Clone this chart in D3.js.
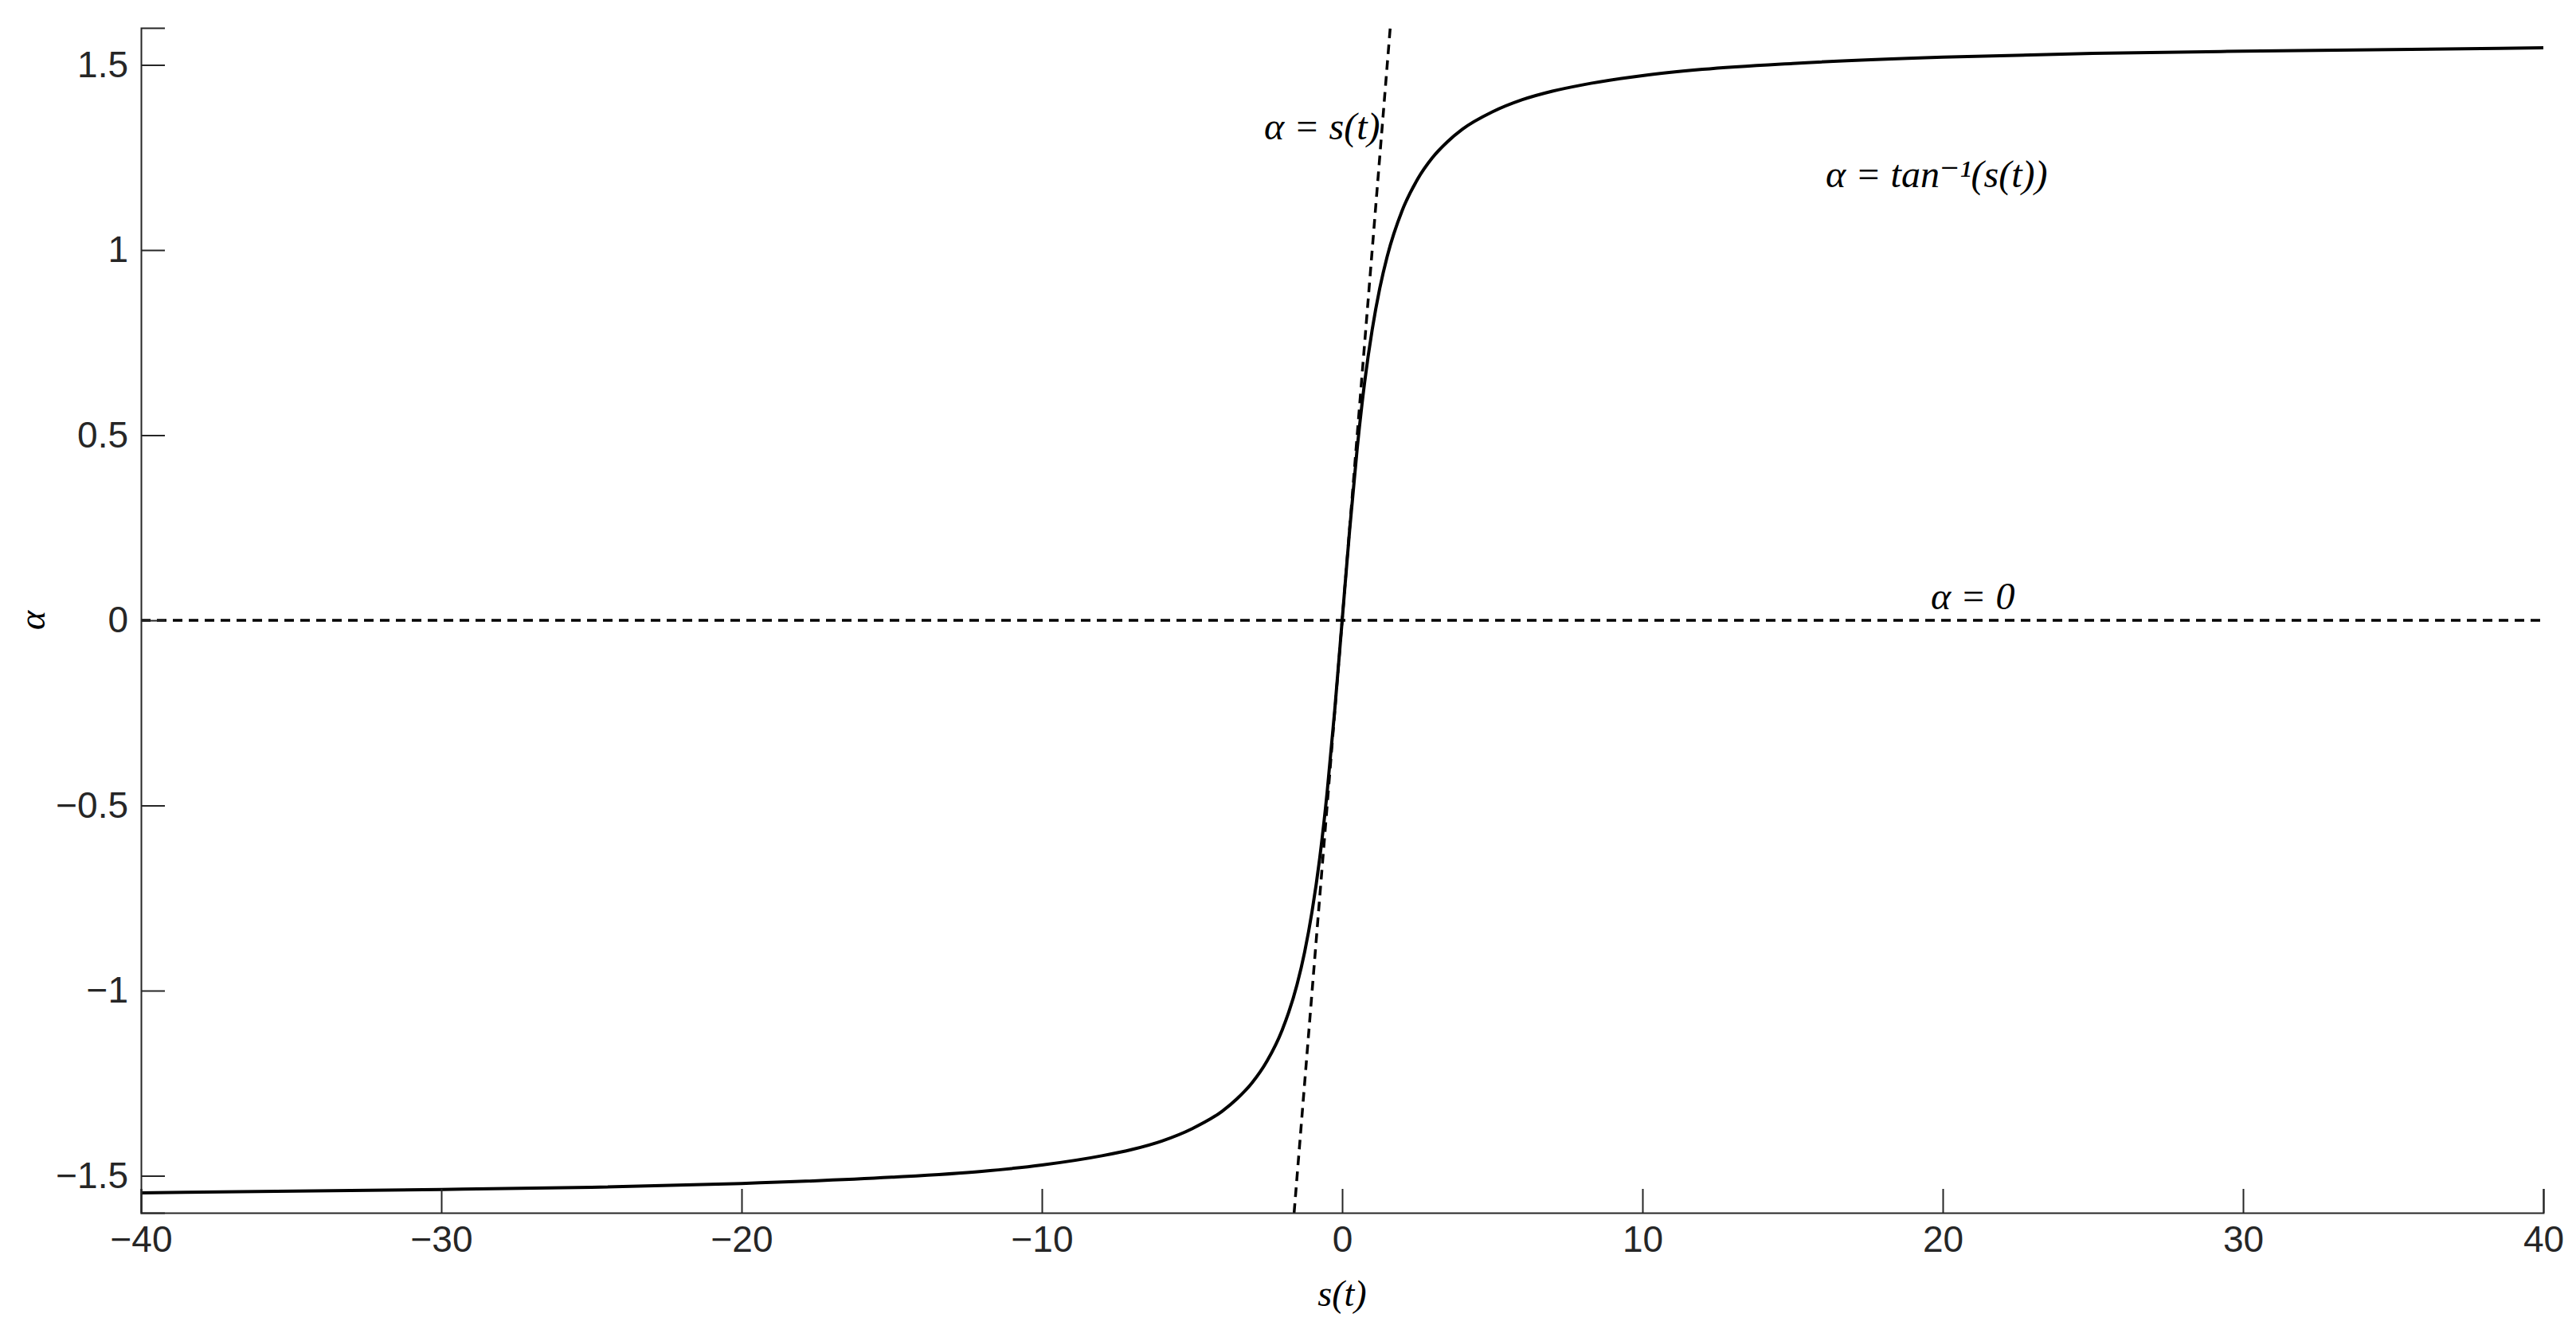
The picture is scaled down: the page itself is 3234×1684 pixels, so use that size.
<!DOCTYPE html>
<html><head><meta charset="utf-8">
<script src="https://cdn.jsdelivr.net/npm/d3@7"></script>
<style>body{margin:0;background:#fff}</style></head>
<body><svg id="c" width="3234" height="1684"></svg>
<script>
const sValues = [-40,-30,-25,-20,-15,-12,-10,-8,-7,-6,-5,-4,-3.5,-3,-2.5,-2,-1.5,-1.25,-1,-0.75,-0.5,-0.25,0,0.25,0.5,0.75,1,1.25,1.5,2,2.5,3,3.5,4,5,6,7,8,10,12,15,20,25,30,40];
const alphaValues = [-1.546,-1.537,-1.531,-1.521,-1.504,-1.488,-1.471,-1.446,-1.429,-1.406,-1.373,-1.326,-1.292,-1.249,-1.190,-1.107,-0.983,-0.896,-0.785,-0.644,-0.464,-0.245,0,0.245,0.464,0.644,0.785,0.896,0.983,1.107,1.190,1.249,1.292,1.326,1.373,1.406,1.429,1.446,1.471,1.488,1.504,1.521,1.531,1.537,1.546];
const linearS = [-1.6,1.6];
const linearAlpha = [-1.6,1.6];
const xTicks = [-40,-30,-20,-10,0,10,20,30,40];
const yTicks = [-1.5,-1,-0.5,0,0.5,1,1.5];
const labels = [{t:"α = s(t)",s:-2.6,a:1.3},{t:"α = tan⁻¹(s(t))",s:16.1,a:1.17},{t:"α = 0",s:19.6,a:0.03}];

const svg=d3.select("#c");
const L=177,R=3193,T=35,B=1523;
const x=d3.scaleLinear().domain([-40,40]).range([L,R]);
const y=d3.scaleLinear().domain([-1.6,1.6]).range([B,T]);
svg.append("clipPath").attr("id","cp").append("rect").attr("x",L).attr("y",T).attr("width",R-L).attr("height",B-T);
const g=svg.append("g").attr("clip-path","url(#cp)");
g.append("line").attr("x1",x(-40)).attr("x2",x(40)).attr("y1",y(0)).attr("y2",y(0))
 .attr("stroke","#000").attr("stroke-width",3.5).attr("stroke-dasharray","12,8");
g.append("line").attr("x1",x(linearS[0])).attr("x2",x(linearS[1])).attr("y1",y(linearAlpha[0])).attr("y2",y(linearAlpha[1]))
 .attr("stroke","#000").attr("stroke-width",3.5).attr("stroke-dasharray","12,8");
g.append("path").datum(sValues.map((s,i)=>[s,alphaValues[i]]))
 .attr("d",d3.line().x(d=>x(d[0])).y(d=>y(d[1])).curve(d3.curveMonotoneX))
 .attr("fill","none").attr("stroke","#000").attr("stroke-width",4);

const font="'Liberation Sans',Arial,sans-serif";
const xa=svg.append("g").attr("transform",`translate(0,${B})`)
 .call(d3.axisBottom(x).tickValues(xTicks).tickSize(-30).tickPadding(16).tickFormat(d3.format("")));
const ya=svg.append("g").attr("transform",`translate(${L},0)`)
 .call(d3.axisLeft(y).tickValues(yTicks).tickSize(-30).tickPadding(16).tickFormat(d3.format("")));
[xa,ya].forEach(a=>{a.select(".domain").attr("stroke","#262626").attr("stroke-width",2);
 a.selectAll(".tick line").attr("stroke","#262626").attr("stroke-width",2);
 a.selectAll("text").attr("font-family",font).attr("font-size",46).attr("fill","#262626");});
xa.selectAll("text").attr("dy","0.71em").attr("y",16);
ya.selectAll("text").attr("x",-16);

const serif="'Liberation Serif','DejaVu Serif',serif";
svg.append("text").attr("x",(L+R)/2).attr("y",1640).attr("text-anchor","middle")
 .attr("font-family",serif).attr("font-style","italic").attr("font-size",46).text("s(t)");
svg.append("text").attr("transform",`translate(56,${y(0)}) rotate(-90)`).attr("text-anchor","middle")
 .attr("font-family",serif).attr("font-style","italic").attr("font-size",46).text("α");
svg.selectAll(".lab").data(labels).enter().append("text")
 .attr("x",d=>x(d.s)).attr("y",d=>y(d.a)).attr("font-family",serif).attr("font-style","italic")
 .attr("font-size",48).text(d=>d.t);
</script></body></html>
